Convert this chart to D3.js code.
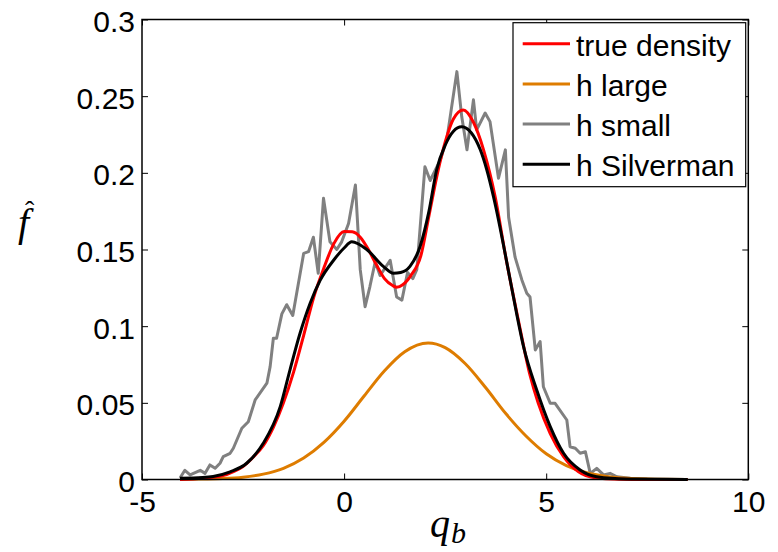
<!DOCTYPE html>
<html>
<head>
<meta charset="utf-8">
<script src="https://cdn.jsdelivr.net/npm/d3@7"></script>
<style>
  body { margin: 0; background: #fff; }
  .tick text { font-family: "Liberation Sans", Arial, sans-serif; font-size: 30px; fill: #000; }
  .tick line { stroke: #000; stroke-width: 1; }
  .legendText { font-family: "Liberation Sans", Arial, sans-serif; font-size: 30px; }
</style>
</head>
<body>
<div id="graph"></div>
<script>
// ---- data: [q_b, density] ----
var trueDensity = [
    [-4.06, 0.0], [-3.5, 0.0008], [-3.0, 0.0025], [-2.75, 0.005], [-2.5, 0.0085],
    [-2.25, 0.0145], [-2.0, 0.022], [-1.75, 0.034], [-1.5, 0.050], [-1.25, 0.070],
    [-1.0, 0.094], [-0.75, 0.119], [-0.5, 0.138], [-0.25, 0.154], [0.0, 0.1617],
    [0.2, 0.1615], [0.4, 0.158], [0.6, 0.150], [0.8, 0.140], [1.0, 0.131],
    [1.2, 0.1265], [1.3, 0.1254], [1.45, 0.127], [1.65, 0.133], [1.9, 0.146],
    [2.1, 0.172], [2.33, 0.202], [2.5, 0.220], [2.7, 0.235], [2.95, 0.241],
    [3.2, 0.233], [3.45, 0.215], [3.74, 0.184], [4.0, 0.145], [4.31, 0.104],
    [4.6, 0.068], [4.8, 0.050], [5.1, 0.030], [5.43, 0.0149], [5.8, 0.005],
    [6.2, 0.0012], [6.8, 0.0002], [7.5, 0.0], [8.5, 0.0]
];

var hLarge = [
    [-4.06, 0.0001], [-3.5, 0.0003], [-3.0, 0.0006], [-2.5, 0.0015], [-2.0, 0.0035],
    [-1.5, 0.0073], [-1.0, 0.014], [-0.5, 0.0242], [0.0, 0.038], [0.5, 0.0546],
    [1.0, 0.0709], [1.5, 0.0833], [2.08, 0.089], [2.5, 0.086], [3.0, 0.0755],
    [3.5, 0.060], [4.0, 0.043], [4.5, 0.0284], [5.0, 0.0168], [5.5, 0.0091],
    [6.0, 0.0044], [6.5, 0.002], [7.0, 0.0008], [7.5, 0.0003], [8.5, 0.0]
];

var hSmall = [
    [-4.06, 0.001], [-3.94, 0.006], [-3.81, 0.003], [-3.56, 0.006], [-3.44, 0.004],
    [-3.32, 0.0095], [-3.19, 0.0073], [-3.07, 0.0106], [-2.99, 0.0149], [-2.82, 0.0171],
    [-2.74, 0.0204], [-2.53, 0.0334], [-2.37, 0.0377], [-2.20, 0.0519], [-1.91, 0.0628],
    [-1.83, 0.0736], [-1.75, 0.0921], [-1.67, 0.0921], [-1.54, 0.108], [-1.42, 0.114],
    [-1.27, 0.107], [-1.0, 0.1475], [-0.88, 0.1486], [-0.76, 0.158], [-0.64, 0.1345],
    [-0.51, 0.1834], [-0.35, 0.155], [-0.18, 0.150], [-0.06, 0.155], [0.11, 0.167],
    [0.28, 0.192], [0.40, 0.1367], [0.52, 0.1127], [0.64, 0.126], [0.77, 0.142],
    [0.89, 0.133], [1.14, 0.143], [1.30, 0.119], [1.43, 0.117], [1.57, 0.135],
    [1.70, 0.131], [1.80, 0.137], [2.0, 0.204], [2.13, 0.195], [2.38, 0.2085],
    [2.54, 0.2215], [2.79, 0.266], [2.91, 0.2367], [3.04, 0.215], [3.20, 0.2476],
    [3.28, 0.228], [3.49, 0.239], [3.61, 0.2334], [3.82, 0.1965], [3.99, 0.215],
    [4.07, 0.171], [4.23, 0.145], [4.40, 0.130], [4.52, 0.1215], [4.60, 0.119],
    [4.73, 0.0845], [4.85, 0.090], [4.93, 0.0605], [5.10, 0.0497], [5.22, 0.0497],
    [5.51, 0.0388], [5.59, 0.0214], [5.72, 0.0204], [5.84, 0.0171], [5.97, 0.0181],
    [6.09, 0.004], [6.25, 0.0073], [6.42, 0.003], [6.58, 0.004], [6.75, 0.0018],
    [7.08, 0.0008], [7.5, 0.0003], [8.0, 0.0002], [8.42, 0.0]
];

var hSilverman = [
    [-4.06, 0.0008], [-3.5, 0.0013], [-3.24, 0.002], [-2.82, 0.005], [-2.41, 0.0106],
    [-2.0, 0.0236], [-1.58, 0.0475], [-1.34, 0.0714], [-1.09, 0.0954], [-0.84, 0.115],
    [-0.59, 0.130], [-0.26, 0.143], [0.0, 0.151], [0.19, 0.155], [0.56, 0.150],
    [0.97, 0.139], [1.22, 0.1345], [1.4, 0.135], [1.63, 0.139], [1.88, 0.152],
    [2.1, 0.175], [2.29, 0.202], [2.5, 0.218], [2.7, 0.227], [2.91, 0.230],
    [3.15, 0.226], [3.37, 0.215], [3.53, 0.202], [3.70, 0.184], [4.11, 0.130],
    [4.27, 0.108], [4.44, 0.0866], [4.77, 0.058], [5.10, 0.0345], [5.43, 0.0171],
    [5.84, 0.0062], [6.25, 0.0018], [7.0, 0.0003], [8.5, 0.0]
];

var xTicks = [-5, 0, 5, 10];
var xTickLabels = ['-5', '0', '5', '10'];
var yTicks = [0, 0.05, 0.1, 0.15, 0.2, 0.25, 0.3];
var yTickLabels = ['0', '0.05', '0.1', '0.15', '0.2', '0.25', '0.3'];

var legendLabels  = ['true density', 'h large', 'h small', 'h Silverman'];
var legendColours = ['#ff0000', '#de7c00', '#808080', '#000000'];
var seriesList    = [trueDensity, hLarge, hSmall, hSilverman];
var drawOrder     = [2, 1, 0, 3];   // gray behind, black on top

// ---- layout ----
var W = 778, H = 552;
var margin = { top: 19.5, right: 30, bottom: 72.5, left: 142 };
var width  = 748.3 - margin.left;
var height = 479.5 - margin.top;

var xScale = d3.scaleLinear().domain([-5, 10]).range([0, width]);
var yScale = d3.scaleLinear().domain([0, 0.3]).range([height, 0]);

var svg = d3.select('div#graph')
            .append('svg')
            .attr('width', W)
            .attr('height', H)
            .style('background', '#fff');

var g = svg.append('g')
           .attr('transform', 'translate(' + margin.left + ',' + margin.top + ')');

// axes (MATLAB style: inward ticks, box on)
var xAxis = d3.axisBottom(xScale).tickValues(xTicks)
              .tickFormat(function (d, i) { return xTickLabels[i]; })
              .tickSizeInner(-6).tickSizeOuter(0).tickPadding(11);
var yAxis = d3.axisLeft(yScale).tickValues(yTicks)
              .tickFormat(function (d, i) { return yTickLabels[i]; })
              .tickSizeInner(-6).tickSizeOuter(0).tickPadding(7);

g.append('g')
 .attr('class', 'x axis')
 .attr('transform', 'translate(0,' + height + ')')
 .call(xAxis)
 .call(function (s) { s.select('.domain').remove(); s.selectAll('text').attr('dy', '0.72em'); });

g.append('g')
 .attr('class', 'y axis')
 .call(yAxis)
 .call(function (s) { s.select('.domain').remove(); s.selectAll('text').attr('dy', '0.40em'); });

g.append('g')
 .call(d3.axisTop(xScale).tickValues(xTicks).tickSizeInner(-6).tickSizeOuter(0).tickFormat(''))
 .call(function (s) { s.select('.domain').remove(); });

g.append('g')
 .attr('transform', 'translate(' + width + ',0)')
 .call(d3.axisRight(yScale).tickValues(yTicks).tickSizeInner(-6).tickSizeOuter(0).tickFormat(''))
 .call(function (s) { s.select('.domain').remove(); });

// curves
var line = d3.line()
             .x(function (d) { return xScale(d[0]); })
             .y(function (d) { return yScale(d[1]); })
             .curve(d3.curveMonotoneX);

var lineRaw = d3.line()
                .x(function (d) { return xScale(d[0]); })
                .y(function (d) { return yScale(d[1]); });

drawOrder.forEach(function (i) {
    g.append('path')
     .datum(seriesList[i])
     .attr('fill', 'none')
     .attr('stroke', legendColours[i])
     .attr('stroke-width', 3)
     .attr('stroke-linejoin', 'round')
     .attr('d', i === 2 ? lineRaw : line);
});

// axes box
g.append('rect')
 .attr('x', 0).attr('y', 0)
 .attr('width', width).attr('height', height)
 .attr('fill', 'none')
 .attr('stroke', '#000')
 .attr('stroke-width', 1.5);

// legend
var legend = g.append('g')
              .attr('transform', 'translate(' + (513 - margin.left) + ',' + (22.7 - margin.top) + ')');

legend.append('rect')
      .attr('width', 232.7)
      .attr('height', 164)
      .attr('fill', '#fff')
      .attr('stroke', '#000')
      .attr('stroke-width', 1.2);

legendLabels.forEach(function (lab, i) {
    var ly = 21 + i * 40.2;
    legend.append('line')
          .attr('x1', 9.7).attr('x2', 57)
          .attr('y1', ly).attr('y2', ly)
          .attr('stroke', legendColours[i])
          .attr('stroke-width', 3);
    legend.append('text')
          .attr('class', 'legendText')
          .attr('x', 63)
          .attr('y', ly + 12)
          .text(lab);
});

// axis labels
svg.append('text')
   .attr('x', 18).attr('y', 236)
   .style('font-family', '"Liberation Serif", "DejaVu Serif", serif')
   .style('font-style', 'italic')
   .style('font-size', '40px')
   .text('f');

svg.append('text')
   .attr('x', 25).attr('y', 220)
   .style('font-family', '"Liberation Serif", "DejaVu Serif", serif')
   .style('font-size', '28px')
   .text('\u02C6');

var xl = svg.append('text')
            .attr('x', 430).attr('y', 537)
            .style('font-family', '"Liberation Serif", "DejaVu Serif", serif')
            .style('font-style', 'italic')
            .style('font-size', '40px');
xl.append('tspan').text('q');
xl.append('tspan').attr('dy', 6).attr('dx', 1).style('font-size', '30px').text('b');
</script>
</body>
</html>
